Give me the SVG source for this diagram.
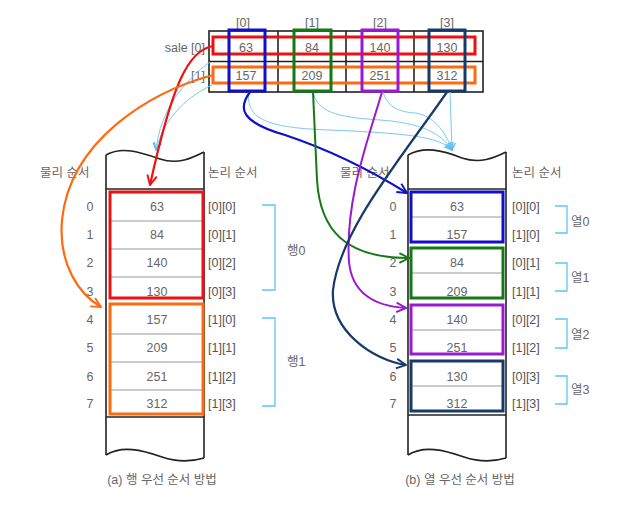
<svg xmlns="http://www.w3.org/2000/svg" width="639" height="507" viewBox="0 0 639 507">
<style>
text{font-family:"Liberation Sans","Noto Sans CJK KR",sans-serif;font-size:12.5px;fill:#666;}
.c{text-anchor:middle;}
.e{text-anchor:end;}
.lab{fill:#555;}
.grid{fill:none;stroke:#222;stroke-width:1.6;}
.col{fill:none;stroke:#222;stroke-width:1.6;}
.div{stroke:#999;stroke-width:1;}
.br{fill:none;stroke:#5bc8f0;stroke-width:1.3;}
.lb{fill:none;stroke:#7cc8ee;stroke-width:1;}
</style>
<defs>
<marker id="mR" viewBox="0 0 10 10" refX="9" refY="5" markerWidth="12" markerHeight="12" markerUnits="userSpaceOnUse" orient="auto"><path d="M1,1 L9,5 L1,9" fill="none" stroke="#ee1111" stroke-width="1.6"/></marker>
<marker id="mO" viewBox="0 0 10 10" refX="9" refY="5" markerWidth="12" markerHeight="12" markerUnits="userSpaceOnUse" orient="auto"><path d="M1,1 L9,5 L1,9" fill="none" stroke="#ff6a10" stroke-width="1.6"/></marker>
<marker id="mB" viewBox="0 0 10 10" refX="9" refY="5" markerWidth="12" markerHeight="12" markerUnits="userSpaceOnUse" orient="auto"><path d="M1,1 L9,5 L1,9" fill="none" stroke="#1010c8" stroke-width="1.6"/></marker>
<marker id="mG" viewBox="0 0 10 10" refX="9" refY="5" markerWidth="12" markerHeight="12" markerUnits="userSpaceOnUse" orient="auto"><path d="M1,1 L9,5 L1,9" fill="none" stroke="#137a13" stroke-width="1.6"/></marker>
<marker id="mP" viewBox="0 0 10 10" refX="9" refY="5" markerWidth="12" markerHeight="12" markerUnits="userSpaceOnUse" orient="auto"><path d="M1,1 L9,5 L1,9" fill="none" stroke="#9a1ad0" stroke-width="1.6"/></marker>
<marker id="mN" viewBox="0 0 10 10" refX="9" refY="5" markerWidth="12" markerHeight="12" markerUnits="userSpaceOnUse" orient="auto"><path d="M1,1 L9,5 L1,9" fill="none" stroke="#173a6a" stroke-width="1.6"/></marker>
<marker id="mL" viewBox="0 0 10 10" refX="9" refY="5" markerWidth="9" markerHeight="9" markerUnits="userSpaceOnUse" orient="auto"><path d="M1,1 L9,5 L1,9" fill="none" stroke="#5bbcee" stroke-width="1.4"/></marker>
</defs>
<rect width="639" height="507" fill="#fff"/>

<!-- top array -->
<g id="sale">
<rect class="grid" x="209" y="31" width="274" height="61"/>
<line class="grid" x1="209" y1="61.5" x2="483" y2="61.5"/>
<line class="grid" x1="278" y1="31" x2="278" y2="92"/>
<line class="grid" x1="346" y1="31" x2="346" y2="92"/>
<line class="grid" x1="414" y1="31" x2="414" y2="92"/>
<text class="c" x="243" y="27">[0]</text>
<text class="c" x="312" y="27">[1]</text>
<text class="c" x="380" y="27">[2]</text>
<text class="c" x="447" y="27">[3]</text>
<text class="e" x="205" y="52">sale [0]</text>
<text class="e" x="205" y="80">[1]</text>
<text class="c" x="246" y="52">63</text>
<text class="c" x="312" y="52">84</text>
<text class="c" x="380" y="52">140</text>
<text class="c" x="447" y="52">130</text>
<text class="c" x="246" y="80">157</text>
<text class="c" x="312" y="80">209</text>
<text class="c" x="380" y="80">251</text>
<text class="c" x="447" y="80">312</text>
<rect x="213" y="37" width="262" height="17" fill="none" stroke="#ee1111" stroke-width="3"/>
<rect x="213" y="67" width="262" height="16" fill="none" stroke="#ff6a10" stroke-width="3"/>
<rect x="229" y="30" width="36" height="61" fill="none" stroke="#1010c8" stroke-width="3"/>
<rect x="294" y="30" width="37" height="61" fill="none" stroke="#137a13" stroke-width="3"/>
<rect x="362" y="30" width="36" height="61" fill="none" stroke="#9a1ad0" stroke-width="3"/>
<rect x="429" y="30" width="36" height="61" fill="none" stroke="#173a6a" stroke-width="3"/>
</g>

<!-- left memory (row major) -->
<g id="rowmajor">
<path class="col" d="M106,155 C122,146 140,152 160,159 C178,165 192,158 204,152"/>
<line class="col" x1="106" y1="155" x2="106" y2="455"/>
<line class="col" x1="204" y1="152" x2="204" y2="458"/>
<path class="col" d="M106,455 C122,445 142,450 162,457 C180,463 194,461 204,458"/>
<line class="col" x1="106" y1="189" x2="204" y2="189"/>
<line class="col" x1="106" y1="417" x2="204" y2="417"/>
<line class="div" x1="110" y1="221" x2="203" y2="221"/>
<line class="div" x1="110" y1="249" x2="203" y2="249"/>
<line class="div" x1="110" y1="277" x2="203" y2="277"/>
<line class="div" x1="110" y1="334" x2="203" y2="334"/>
<line class="div" x1="110" y1="362" x2="203" y2="362"/>
<line class="div" x1="110" y1="390" x2="203" y2="390"/>
<rect x="110" y="192" width="93" height="106" fill="none" stroke="#ee1111" stroke-width="3"/>
<rect x="110" y="304" width="93" height="110" fill="none" stroke="#ff6a10" stroke-width="3"/>
<text x="40" y="177">물리 순서</text>
<text x="208" y="177">논리 순서</text>
<text class="c" x="90" y="211">0</text><text class="c" x="90" y="239">1</text><text class="c" x="90" y="267">2</text><text class="c" x="90" y="296">3</text>
<text class="c" x="90" y="324">4</text><text class="c" x="90" y="352">5</text><text class="c" x="90" y="381">6</text><text class="c" x="90" y="408">7</text>
<text class="c" x="157" y="211">63</text><text class="c" x="157" y="239">84</text><text class="c" x="157" y="267">140</text><text class="c" x="157" y="296">130</text>
<text class="c" x="157" y="324">157</text><text class="c" x="157" y="352">209</text><text class="c" x="157" y="381">251</text><text class="c" x="157" y="408">312</text>
<text class="lab" x="208" y="211">[0][0]</text><text class="lab" x="208" y="239">[0][1]</text><text class="lab" x="208" y="267">[0][2]</text><text class="lab" x="208" y="296">[0][3]</text>
<text class="lab" x="208" y="324">[1][0]</text><text class="lab" x="208" y="352">[1][1]</text><text class="lab" x="208" y="381">[1][2]</text><text class="lab" x="208" y="408">[1][3]</text>
<path class="br" d="M262,205 H275 V290 H262"/>
<path class="br" d="M262,318 H275 V406 H262"/>
<text x="287" y="255">행0</text>
<text x="287" y="366">행1</text>
<text class="c" x="162" y="484">(a) 행 우선 순서 방법</text>
</g>

<!-- right memory (column major) -->
<g id="colmajor">
<path class="col" d="M408,155 C424,146 442,150 462,158 C480,164 494,158 506,152"/>
<line class="col" x1="408" y1="155" x2="408" y2="455"/>
<line class="col" x1="506" y1="152" x2="506" y2="458"/>
<path class="col" d="M408,455 C424,445 444,450 464,457 C482,463 496,461 506,458"/>
<line class="col" x1="408" y1="189" x2="506" y2="189"/>
<line class="col" x1="408" y1="415" x2="506" y2="415"/>
<line class="div" x1="411" y1="217" x2="503" y2="217"/>
<line class="div" x1="411" y1="273" x2="503" y2="273"/>
<line class="div" x1="411" y1="330" x2="503" y2="330"/>
<line class="div" x1="411" y1="386" x2="503" y2="386"/>
<rect x="411" y="192" width="92" height="50" fill="none" stroke="#1010c8" stroke-width="3"/>
<rect x="411" y="248" width="92" height="50" fill="none" stroke="#137a13" stroke-width="3"/>
<rect x="411" y="305" width="92" height="49" fill="none" stroke="#9a1ad0" stroke-width="3"/>
<rect x="411" y="361" width="92" height="50" fill="none" stroke="#173a6a" stroke-width="3"/>
<text x="340" y="177">물리 순서</text>
<text x="512" y="177">논리 순서</text>
<text class="c" x="393" y="211">0</text><text class="c" x="393" y="239">1</text><text class="c" x="393" y="267">2</text><text class="c" x="393" y="296">3</text>
<text class="c" x="393" y="324">4</text><text class="c" x="393" y="352">5</text><text class="c" x="393" y="381">6</text><text class="c" x="393" y="408">7</text>
<text class="c" x="457" y="211">63</text><text class="c" x="457" y="239">157</text><text class="c" x="457" y="267">84</text><text class="c" x="457" y="296">209</text>
<text class="c" x="457" y="324">140</text><text class="c" x="457" y="352">251</text><text class="c" x="457" y="381">130</text><text class="c" x="457" y="408">312</text>
<text class="lab" x="512" y="211">[0][0]</text><text class="lab" x="512" y="239">[1][0]</text><text class="lab" x="512" y="267">[0][1]</text><text class="lab" x="512" y="296">[1][1]</text>
<text class="lab" x="512" y="324">[0][2]</text><text class="lab" x="512" y="352">[1][2]</text><text class="lab" x="512" y="381">[0][3]</text><text class="lab" x="512" y="408">[1][3]</text>
<path class="br" d="M555,206 H567 V233 H555"/>
<path class="br" d="M555,263 H567 V291 H555"/>
<path class="br" d="M555,319 H567 V348 H555"/>
<path class="br" d="M555,376 H567 V404 H555"/>
<text x="571" y="226">열0</text>
<text x="571" y="282">열1</text>
<text x="571" y="339">열2</text>
<text x="571" y="394">열3</text>
<text class="c" x="460" y="484">(b) 열 우선 순서 방법</text>
</g>

<!-- connectors -->
<g id="connectors">
<path class="lb" d="M210,62 C185,80 160,110 156,150" marker-end="url(#mL)"/>
<path class="lb" d="M214,84 C190,95 165,115 156,150" marker-end="url(#mL)"/>
<path class="lb" d="M249,92 C245,120 270,128 330,130 C400,133 440,136 452,150" marker-end="url(#mL)"/>
<path class="lb" d="M313,92 C318,112 335,117 380,120 C420,123 440,132 452,150" marker-end="url(#mL)"/>
<path class="lb" d="M383,92 C388,108 400,112 415,113 C432,115 445,130 452,150" marker-end="url(#mL)"/>
<path class="lb" d="M450,92 L452,150" marker-end="url(#mL)"/>
<path d="M213,46 C188,50 172,85 150,185" fill="none" stroke="#ee1111" stroke-width="2.2" marker-end="url(#mR)"/>
<path d="M213,75 C150,92 70,140 62,220 C58,265 80,295 101,307" fill="none" stroke="#ff6a10" stroke-width="2.2" marker-end="url(#mO)"/>
<path d="M250,92 C238,108 240,122 285,135 C330,150 370,170 407,193" fill="none" stroke="#1010c8" stroke-width="2.2" marker-end="url(#mB)"/>
<path d="M313,92 L317,180 C320,230 345,258 409,258" fill="none" stroke="#137a13" stroke-width="2" marker-end="url(#mG)"/>
<path d="M382,92 C368,140 345,200 349,262 C352,292 372,306 406,308" fill="none" stroke="#9a1ad0" stroke-width="2" marker-end="url(#mP)"/>
<path d="M447,92 C400,160 340,230 333,290 C330,330 372,360 406,365" fill="none" stroke="#173a6a" stroke-width="2.2" marker-end="url(#mN)"/>
</g>
</svg>
